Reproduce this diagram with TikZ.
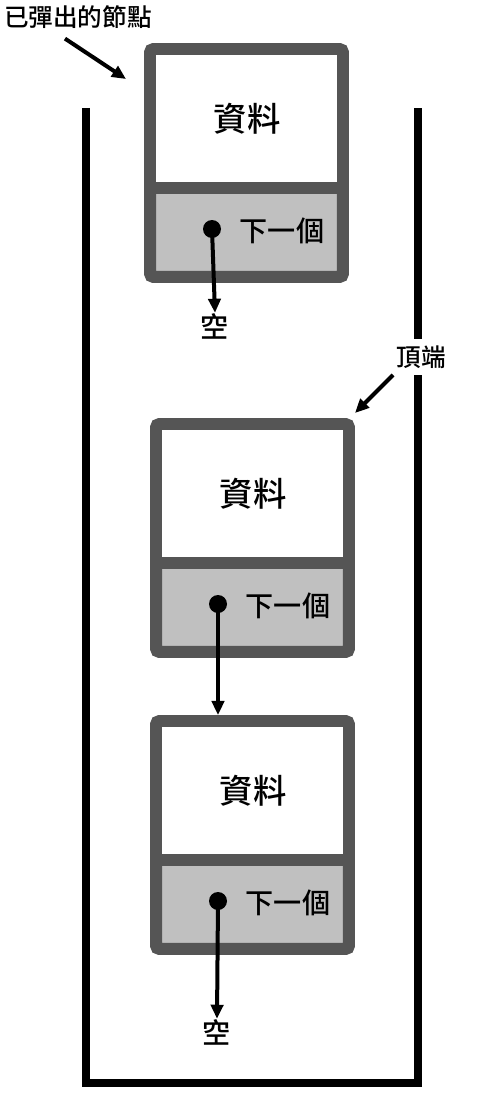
\documentclass[tikz,border=0pt]{standalone}
\usepackage{fontspec}
\newfontfamily\cjk{Noto Sans CJK TC}[UprightFont={* Medium}]
\usepackage{tikz}
\usetikzlibrary{calc, arrows.meta}
\definecolor{boxgray}{RGB}{85,85,85}
\definecolor{fieldgray}{RGB}{192,192,192}

\begin{document}
\begin{tikzpicture}[x=0.02cm,y=-0.02cm,
  listnode/.style={draw=boxgray,fill=fieldgray,line width=0.24cm,rounded corners=2pt,
    minimum width=3.86cm,minimum height=4.56cm,inner sep=0pt},
  ptr/.style={circle,fill=black,minimum size=0.36cm,inner sep=0pt},
  ptrarrow/.style={-{Triangle[length=8pt,width=7pt]},line width=0.08cm},
  datatext/.style={font=\cjk\fontsize{19}{19}\selectfont,inner sep=0pt},
  nexttext/.style={font=\cjk\fontsize{16}{16}\selectfont,inner sep=0pt},
  labeltext/.style={font=\cjk\fontsize{14}{14}\selectfont,inner sep=1pt}]
  \useasboundingbox (0,0) rectangle (503,1105);
  \draw[line width=0.16cm] (85.5,108)--(85.5,1082.5)--(418,1082.5)--(418,108); %容器
  \foreach \x/\y/\n in {144/43/a,150/418/b,150/715/c}{
    \node[listnode] (\n) at (\x+102.5,\y+120) {};
    \fill[white] (\x+12,\y+12) rectangle (\x+193,\y+139); %資料欄
    \fill[boxgray] (\x+12,\y+139) rectangle (\x+193,\y+151);
    \node[datatext] (\n-data) at (\x+103,\y+76) {資料};
    \node[ptr] (\n-ptr) at (\x+68,\y+186) {};
    \node[nexttext] (\n-next) at (\x+138,\y+188) {下一個};
  }
  \node[labeltext] (popped) at (78,17) {已彈出的節點};
  \node[labeltext,fill=white,inner ysep=3.5pt,inner xsep=0pt] (top) at (421,357) {頂端};
  \node[nexttext] (null-a) at (215,326) {空};
  \node[nexttext] (null-c) at (217,1032) {空};
  \draw[ptrarrow] (a-ptr.center)--(null-a.north);
  \draw[ptrarrow] (b-ptr.center)--(b-ptr |- c.north);
  \draw[ptrarrow] (c-ptr.center)--(null-c.north);
  \draw[ptrarrow] ([shift={(-13,8)}]popped.south)--([shift={(-18,36)}]a.north west);
  \draw[ptrarrow] ([shift={(-3,0)}]top.south west)--([shift={(0,-5)}]b.north east);
\end{tikzpicture}
\end{document}
